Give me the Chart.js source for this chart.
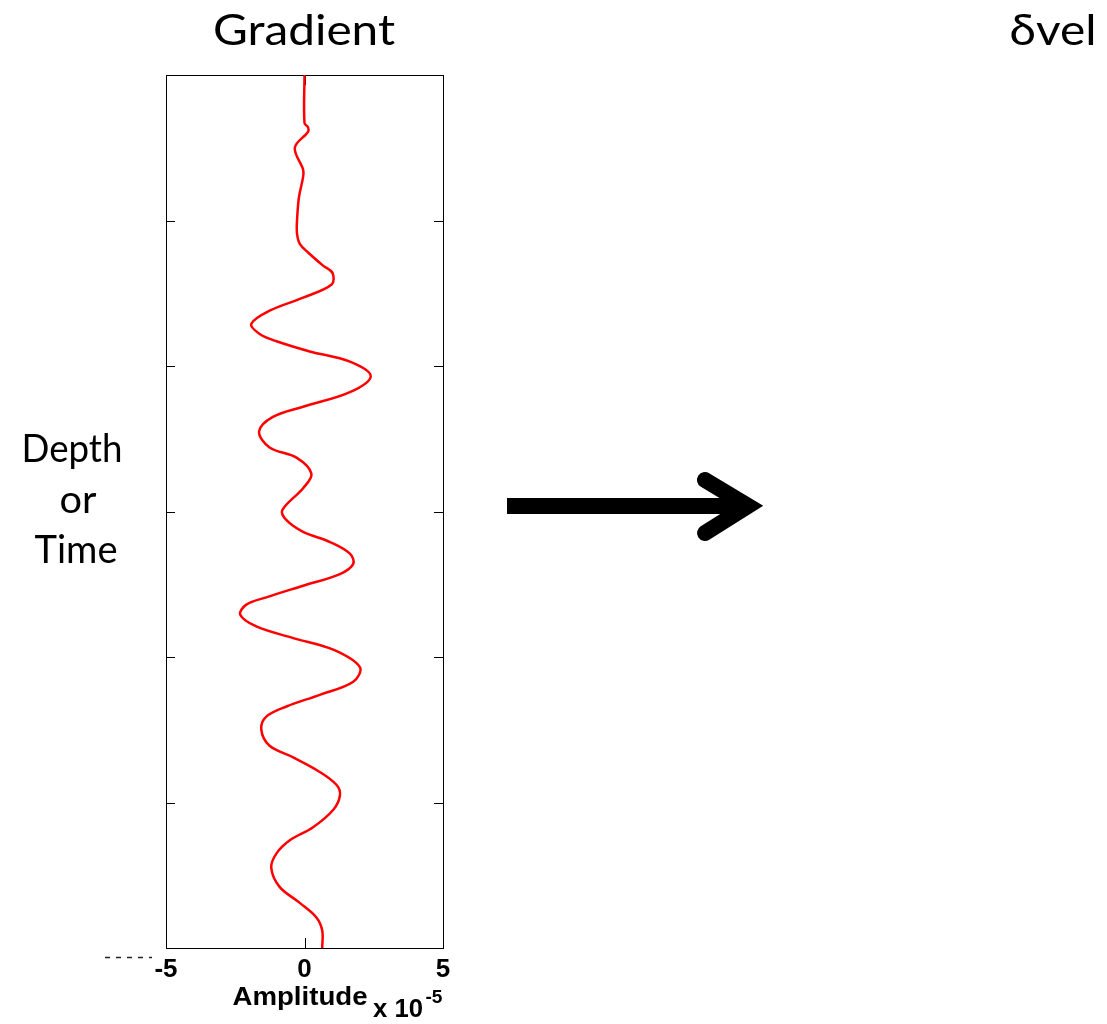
<!DOCTYPE html>
<html lang="en">
<head>
<meta charset="utf-8">
<script src="https://cdn.jsdelivr.net/npm/chart.js@4.4.1/dist/chart.umd.min.js"></script>
<style>
  html, body { margin: 0; padding: 0; background: #fff; }
  #wrap { width: 1107px; height: 1024px; }
</style>
</head>
<body>
<div id="wrap"><canvas id="myChart" width="1107" height="1024"></canvas></div>
<script>

// gradient trace, depth goes down the page
const depth = [0.00, 0.33, 0.36, 0.39, 0.50, 0.65, 0.70, 0.84, 1.00, 1.09,
               1.16, 1.22, 1.31, 1.36, 1.44, 1.53, 1.62, 1.71, 1.78, 1.83,
               1.90, 1.97, 2.07, 2.18, 2.28, 2.35, 2.45, 2.56, 2.63, 2.74,
               2.84, 2.99, 3.06, 3.14, 3.21, 3.29, 3.36, 3.43, 3.51, 3.59,
               3.64, 3.71, 3.79, 3.87, 3.95, 4.07, 4.17, 4.26, 4.34, 4.41,
               4.50, 4.61, 4.69, 4.79, 4.88, 4.95, 5.05, 5.17, 5.26, 5.35,
               5.45, 5.58, 5.69, 5.79, 5.88, 6.00];
const amplitude = [0, 0, 0.13, 0.13, -0.35, -0.05, -0.05, -0.20, -0.27, -0.27,
               -0.17, 0.13, 0.67, 1.01, 0.98, -0.05, -1.26, -1.92, -1.62, -1.01,
               0.19, 1.64, 2.39, 1.64, -0.05, -1.14, -1.64, -1.26, -0.29, 0.25,
               -0.05, -0.80, -0.65, -0.05, 0.92, 1.64, 1.76, 1.28, -0.05, -1.38,
               -2.10, -2.32, -1.74, -0.41, 1.04, 2.00, 1.76, 0.55, -0.65, -1.38,
               -1.56, -1.26, -0.41, 0.55, 1.16, 1.28, 1.04, 0.31, -0.53, -1.01,
               -1.20, -0.90, -0.17, 0.43, 0.64, 0.64];

const ampTicks = [-5, 0, 5];
const depthTicks = [1, 2, 3, 4, 5];

const points = depth.map((d, i) => ({ x: amplitude[i], y: d }));

// draw text stretched to a given width
function fitText(ctx, text, cx, baseline, font, width) {
    ctx.save();
    ctx.font = font;
    const w = ctx.measureText(text).width;
    ctx.translate(cx, baseline);
    ctx.scale(width / w, 1);
    ctx.textAlign = 'center';
    ctx.textBaseline = 'alphabetic';
    ctx.fillStyle = '#000';
    ctx.fillText(text, 0, 0);
    ctx.restore();
}

const frame = {
    id: 'frame',
    beforeDatasetsDraw(chart) {
        const ctx = chart.ctx;
        const a = chart.chartArea;
        const xs = chart.scales.x, ys = chart.scales.y;
        ctx.save();
        ctx.strokeStyle = '#000';
        ctx.lineWidth = 1;
        ctx.strokeRect(Math.round(a.left) + 0.5, Math.round(a.top) + 0.5,
                       Math.round(a.right - a.left), Math.round(a.bottom - a.top));
        ctx.beginPath();
        depthTicks.forEach(v => {
            const y = Math.round(ys.getPixelForValue(v)) + 0.5;
            ctx.moveTo(a.left, y); ctx.lineTo(a.left + 9, y);
            ctx.moveTo(a.right - 9, y); ctx.lineTo(a.right, y);
        });
        const x0 = Math.round(xs.getPixelForValue(0)) + 0.5;
        ctx.moveTo(x0, a.bottom); ctx.lineTo(x0, a.bottom - 10);
        ctx.moveTo(x0, a.top); ctx.lineTo(x0, a.top + 10);
        ctx.stroke();
        ctx.restore();
    },
    afterDraw(chart) {
        const ctx = chart.ctx;
        fitText(ctx, 'Gradient', 304, 45, '42px Lato', 182);
        fitText(ctx, 'δvel', 1053, 45, '42px Lato', 87);
        fitText(ctx, 'Depth', 72, 462, '38px Lato', 101);
        fitText(ctx, 'or', 78, 513, '38px Lato', 37);
        fitText(ctx, 'Time', 76, 563, '38px Lato', 83);

        fitText(ctx, 'Amplitude', 300, 1005, 'bold 26px "Liberation Sans"', 135);
        fitText(ctx, 'x 10', 398, 1017, 'bold 25px "Liberation Sans"', 50);
        fitText(ctx, '-5', 434, 1003, 'bold 18px "Liberation Sans"', 17);

        ctx.save();
        // dashed stub left of the axis
        ctx.strokeStyle = '#222';
        ctx.lineWidth = 1.5;
        ctx.setLineDash([5, 6]);
        ctx.beginPath();
        ctx.moveTo(105, 957.5); ctx.lineTo(152, 957.5);
        ctx.stroke();
        ctx.setLineDash([]);

        // arrow
        ctx.fillStyle = '#000';
        ctx.fillRect(507, 498, 240, 16);
        ctx.strokeStyle = '#000';
        ctx.lineWidth = 16;
        ctx.lineCap = 'round';
        ctx.lineJoin = 'miter';
        ctx.beginPath();
        ctx.moveTo(705, 480);
        ctx.lineTo(748, 506);
        ctx.lineTo(705, 533);
        ctx.stroke();
        ctx.restore();
    }
};

const ctx = document.getElementById('myChart').getContext('2d');

const myChart = new Chart(ctx, {
    type: 'scatter',
    data: {
        datasets: [{
            data: points,
            showLine: true,
            borderColor: '#ff0000',
            borderWidth: 2.5,
            pointRadius: 0,
            tension: 0.35
        }]
    },
    options: {
        responsive: false,
        animation: false,
        layout: { padding: { left: 166, right: 664, top: 75, bottom: 0 } },
        plugins: { legend: { display: false }, tooltip: { enabled: false } },
        scales: {
            x: {
                type: 'linear',
                min: -5,
                max: 5,
                afterBuildTicks: s => { s.ticks = ampTicks.map(v => ({ value: v })); },
                afterFit: s => { s.height = 76; },
                grid: { display: false, drawTicks: false },
                border: { display: false },
                ticks: {
                    padding: 6,
                    color: '#000',
                    font: { family: 'Liberation Sans', weight: 'bold', size: 26 }
                }
            },
            y: {
                type: 'linear',
                min: 0,
                max: 6,
                reverse: true,
                display: false
            }
        }
    },
    plugins: [frame]
});
</script>
</body>
</html>
